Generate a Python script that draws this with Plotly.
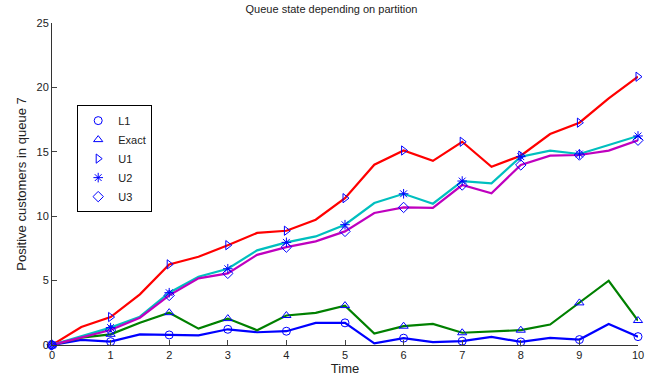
import plotly.graph_objects as go

time = [0, 0.5, 1, 1.5, 2, 2.5, 3, 3.5, 4, 4.5, 5, 5.5, 6, 6.5, 7, 7.5, 8, 8.5, 9, 9.5, 10]
l1 = [0, 0.39, 0.26, 0.83, 0.78, 0.75, 1.22, 0.99, 1.07, 1.72, 1.72, 0.12, 0.53, 0.22, 0.30, 0.63, 0.24, 0.55, 0.42, 1.63, 0.65]
exact = [0, 0.57, 0.83, 1.73, 2.51, 1.27, 2.05, 1.15, 2.29, 2.50, 3.06, 0.89, 1.46, 1.64, 0.95, 1.07, 1.15, 1.59, 3.27, 4.99, 1.90]
u1 = [0, 1.40, 2.17, 3.93, 6.26, 6.85, 7.75, 8.70, 8.87, 9.73, 11.40, 14.0, 15.1, 14.3, 15.78, 13.84, 14.70, 16.38, 17.26, 19.15, 20.83]
u2 = [0, 0.70, 1.35, 2.20, 4.06, 5.30, 5.92, 7.35, 7.97, 8.43, 9.34, 11.02, 11.74, 10.97, 12.73, 12.55, 14.62, 15.09, 14.83, 15.53, 16.23]
u3 = [0, 0.60, 1.16, 2.12, 3.85, 5.17, 5.56, 7.00, 7.60, 8.05, 8.82, 10.25, 10.68, 10.64, 12.42, 11.78, 13.98, 14.70, 14.75, 15.09, 15.90]

names = ["L1", "Exact", "U1", "U2", "U3"]
series = [l1, exact, u1, u2, u3]
line_colors = ["#0000ff", "#008000", "#ff0000", "#00bfbf", "#bf00bf"]
symbols = ["circle-open", "triangle-up-open", "triangle-right-open", "asterisk-open", "diamond-open"]

fig = go.Figure()
for vals, col in zip(series, line_colors):
    fig.add_trace(go.Scatter(x=time, y=vals, mode="lines", line=dict(color=col, width=2.2),
                             showlegend=False, hoverinfo="skip", cliponaxis=False))
for name, vals, sym in zip(names, series, symbols):
    xs = time[::2]
    ys = vals[::2]
    fig.add_trace(go.Scatter(x=xs, y=ys, mode="markers", name=name, cliponaxis=False,
                             marker=dict(symbol=sym, size=8, color="#0000ff",
                                         line=dict(color="#0000ff", width=1))))

font = "Liberation Sans, Arial, sans-serif"
fig.update_layout(
    width=663, height=378,
    margin=dict(l=52, r=25, t=23, b=33),
    paper_bgcolor="white", plot_bgcolor="white",
    font=dict(family=font, size=11, color="#222"),
    title=dict(text="Queue state depending on partition", x=0.5, xanchor="center",
               y=0.975, yanchor="middle", font=dict(size=11, color="#222", family=font)),
    legend=dict(x=0.043, y=0.745, xanchor="left", yanchor="top",
                bordercolor="black", borderwidth=1, bgcolor="white",
                entrywidth=62, entrywidthmode="pixels",
                font=dict(size=11, color="#222")),
    showlegend=True,
)
fig.update_xaxes(range=[0, 10], tickvals=list(range(11)), ticks="inside", ticklen=5,
                 showline=True, linecolor="#333", linewidth=1, showgrid=False, zeroline=False,
                 automargin=False,
                 title=dict(text="Time", standoff=2), mirror=False)
fig.update_yaxes(range=[0, 25], tickvals=[0, 5, 10, 15, 20, 25], ticks="inside", ticklen=5,
                 showline=True, linecolor="#333", linewidth=1, showgrid=False, zeroline=False,
                 automargin=False,
                 title=dict(text="Positive customers in queue 7", standoff=6), mirror=False)

fig.write_html("out.html", post_script="document.body.style.margin='0';",
               config={"displayModeBar": False})
